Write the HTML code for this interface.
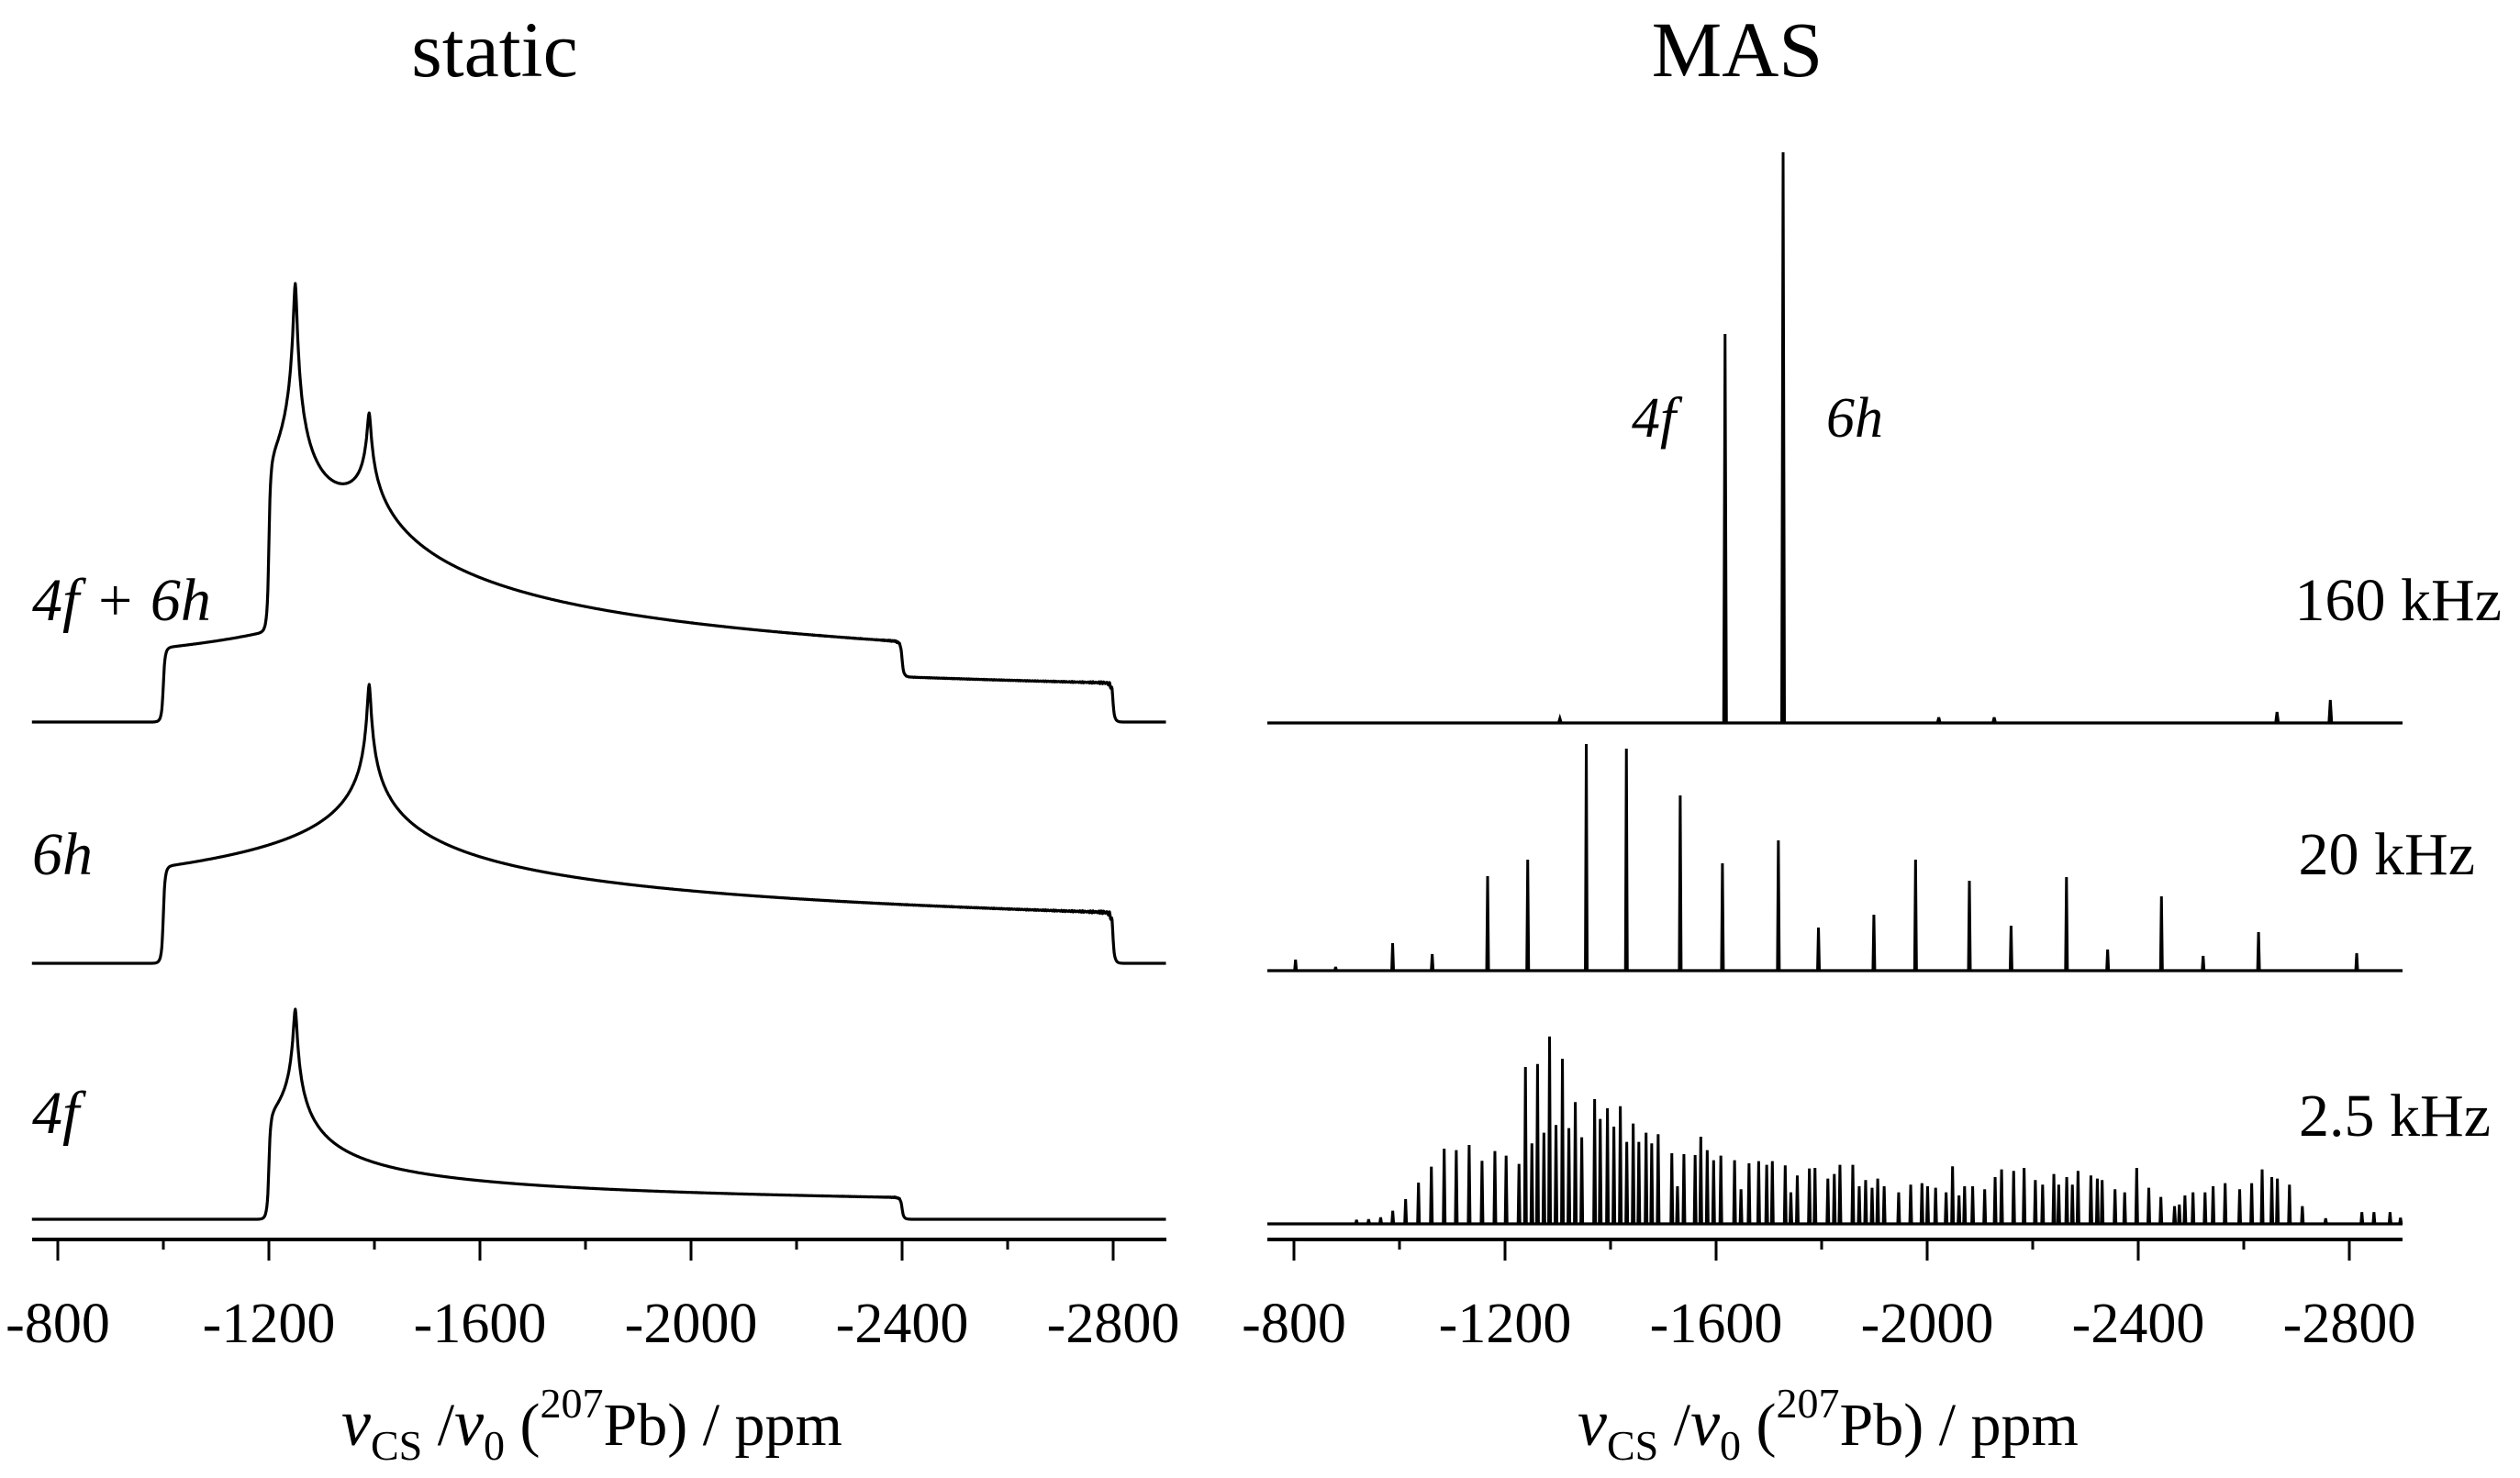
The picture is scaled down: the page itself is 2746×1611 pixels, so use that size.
<!DOCTYPE html>
<html><head><meta charset="utf-8"><style>
html,body{margin:0;padding:0;background:#fff;}
svg{display:block;}
text{font-family:"Liberation Serif",serif;fill:#000;}
</style></head><body>
<svg id="fig" width="2746" height="1611" viewBox="0 0 2746 1611">
<text x="539" y="83" font-size="86" text-anchor="middle">static</text>
<text x="1893" y="83" font-size="86" text-anchor="middle">MAS</text>
<g id="left"></g>
<g id="right"></g>
<text x="35" y="676" font-size="66" font-style="italic">4f + 6h</text>
<text x="35" y="953" font-size="66" font-style="italic">6h</text>
<text x="35" y="1235" font-size="66" font-style="italic">4f</text>
<text x="1778" y="476" font-size="62" font-style="italic">4f</text>
<text x="1990" y="476" font-size="62" font-style="italic">6h</text>
<text x="2726" y="676" font-size="66" text-anchor="end">160 kHz</text>
<text x="2697" y="953" font-size="66" text-anchor="end">20 kHz</text>
<text x="2714" y="1238" font-size="66" text-anchor="end">2.5 kHz</text>
<text x="372" y="1575" font-size="66"><tspan font-style="italic" font-size="72">ν</tspan><tspan font-size="46" dy="16">CS</tspan><tspan dy="-16"> /</tspan><tspan font-style="italic" font-size="72">ν</tspan><tspan font-size="46" dy="16">0</tspan><tspan dy="-16"> (</tspan><tspan font-size="46" dy="-30">207</tspan><tspan dy="30">Pb) / ppm</tspan></text>
<text x="1719" y="1575" font-size="66"><tspan font-style="italic" font-size="72">ν</tspan><tspan font-size="46" dy="16">CS</tspan><tspan dy="-16"> /</tspan><tspan font-style="italic" font-size="72">ν</tspan><tspan font-size="46" dy="16">0</tspan><tspan dy="-16"> (</tspan><tspan font-size="46" dy="-30">207</tspan><tspan dy="30">Pb) / ppm</tspan></text>
</svg>
<script>
// ---- data ----
const tickMajor = [-800, -1200, -1600, -2000, -2400, -2800];
const tickMinor = [-1000, -1400, -1800, -2200, -2600];
const tensor4f = [-1200, -1250, -2400];
const tensor6h = [-1000, -1390, -2800];
const staticPeak4f = 229, staticPeak6h = 304, staticPeakSum = 478;
const mas160Ppm = [-1617, -1727, -1304, -2022, -2127, -2663, -2764];
const mas160H = [424, 622, 5, 6, 6, 12, 25];
const mas20Ppm = [-803,-879,-987,-1062,-1167,-1243,-1354,-1430,-1532,-1612,-1718,-1794,-1899,-1978,-2080,-2159,-2264,-2342,-2444,-2523,-2628,-2814];
const mas20H = [12,4,30,18,103,121,247,242,191,117,142,47,61,121,98,49,102,23,81,16,42,19];
const mas25Ppm = [-918.6,-941.5,-964.3,-987.2,-1011.6,-1036,-1060.4,-1084.7,-1107.6,-1132,-1156.4,-1180.8,-1202.1,-1226.5,-1238.7,-1250.9,-1261.6,-1273.7,-1284.4,-1296.6,-1308.8,-1321,-1333.2,-1345.4,-1369.8,-1380.4,-1394.1,-1406.3,-1418.5,-1430.7,-1442.9,-1453.6,-1467.3,-1478,-1490.2,-1516.1,-1526.8,-1539,-1560.3,-1571,-1583.2,-1595.3,-1609,-1635,-1647.2,-1662.4,-1680.7,-1695.9,-1706.6,-1731,-1741.7,-1753.9,-1776.8,-1787.4,-1811.8,-1824,-1834.7,-1859.1,-1871.2,-1883.4,-1895.6,-1906.3,-1918.5,-1946,-1968.8,-1990.1,-2000.8,-2016,-2035.9,-2048.1,-2060.3,-2070.9,-2086.2,-2109,-2128.8,-2141,-2163.9,-2183.7,-2205,-2218.8,-2240.1,-2249.3,-2264.5,-2275.2,-2285.9,-2310.3,-2322.5,-2331.6,-2356,-2374.3,-2397.1,-2420,-2442.9,-2468.8,-2477.9,-2488.5,-2503.8,-2526.6,-2541.9,-2564.7,-2592.2,-2615,-2634.8,-2653.1,-2663.7,-2686.6,-2711,-2755.2,-2823.8,-2846.7,-2877.2,-2897];
const mas25H = [4.3,5,7,14.3,27,45,62.3,82,80.3,86,68.7,79.3,74.3,65.3,171,87.7,174.3,99.3,204.3,107.7,180,104.3,132.7,94.3,136,114.3,126,106,128.3,89.3,109.3,89.3,99.3,87.7,97.7,77,41,76,75,95,80.3,69.3,74.3,69.3,37.7,66,68.3,64.3,68.3,63.7,34.3,52.7,60.3,61,49.3,54.3,64.3,64.3,41,47.7,39.3,49.3,41,34.3,42.7,44.3,41,39.3,34.3,62.7,31,41,41,37.7,51,59.3,57.7,61,47.7,42.7,54.3,42.7,51,42.7,57.7,52.7,49.3,47.7,37.7,34.3,61,39.3,29.3,19.3,21,31,34.3,34.3,41,44.3,37.7,44.3,59.3,51,49.3,42.7,19.3,6,12.7,12.7,12.7,6.7];

const NS = "http://www.w3.org/2000/svg";
const PX = 0.575;
function xL(p){ return 63 + (-800 - p) * PX; }
function xR(p){ return 1410 + (-800 - p) * PX; }
const P_MIN = -751, P_MAX = -2900;
function mk(tag, attrs, parent){ const e = document.createElementNS(NS, tag); for (const k in attrs) e.setAttribute(k, attrs[k]); parent.appendChild(e); return e; }

function axis(g, xf, x0, x1, name){
  const ax = mk('line', {x1:x0, x2:x1, y1:1351, y2:1351, stroke:'#000', 'stroke-width':4}, g);
  
  
  tickMajor.forEach(t => {
    const l = mk('line', {x1:xf(t), x2:xf(t), y1:1351, y2:1374, stroke:'#000', 'stroke-width':3}, g);
    
    
    const tx = mk('text', {x:xf(t), y:1463, 'font-size':62, 'text-anchor':'middle'}, g);
    tx.textContent = String(t);
    
    
  });
  tickMinor.forEach(t => {
    const l = mk('line', {x1:xf(t), x2:xf(t), y1:1351, y2:1362, stroke:'#000', 'stroke-width':3}, g);
    
    
  });
}

// static powder pattern
const BIN0 = -700, NB = 2300;
function powder(t){
  const h = new Float64Array(NB);
  const N = 1400, M = 1400;
  for (let i = 0; i < N; i++){
    const c = -1 + (i + 0.5) * 2 / N, c2 = c*c, s2 = 1 - c2;
    for (let j = 0; j < M; j++){
      const ph = (j + 0.5) * Math.PI / 2 / M;
      const cp = Math.cos(ph), cp2 = cp*cp;
      const d = t[0]*s2*cp2 + t[1]*s2*(1-cp2) + t[2]*c2;
      const f = BIN0 - d; const k = Math.floor(f); const r = f - k;
      if (k >= 0 && k < NB-1){ h[k] += 1 - r; h[k+1] += r; }
    }
  }
  const w = 2.5, K = 40, out = new Float64Array(NB);
  const ker = []; for (let k = -K; k <= K; k++) ker.push(1/(1 + (k/w)*(k/w)) * Math.exp(-(k*k)/(2*9*9)));
  for (let i = 0; i < NB; i++){ let s = 0; for (let k = -K; k <= K; k++){ const j = i + k; if (j >= 0 && j < NB) s += h[j]*ker[k+K]; } out[i] = s; }
  let sum = 0; for (let i = 0; i < NB; i++) sum += out[i];
  for (let i = 0; i < NB; i++) out[i] /= sum;
  return out;
}
function drawStatic(g, arr, base, peak, name){
  let mx = 0; for (const v of arr) mx = Math.max(mx, v);
  let d = '';
  for (let i = 0; i < NB; i++){
    const p = BIN0 - i; if (p > P_MIN || p < P_MAX) continue;
    const y = base - arr[i] / mx * peak;
    d += (d ? 'L' : 'M') + xL(p).toFixed(1) + ' ' + y.toFixed(1);
  }
  const pa = mk('path', {d:d, fill:'none', stroke:'#000', 'stroke-width':3.2, 'stroke-linejoin':'round'}, g);
  
  
}
const L = document.getElementById('left'), R = document.getElementById('right');
axis(L, xL, 35, 1271, 'static');
axis(R, xR, 1381, 2618, 'mas');
const s4 = powder(tensor4f), s6 = powder(tensor6h);
const sSum = new Float64Array(NB); for (let i = 0; i < NB; i++) sSum[i] = 2*s4[i] + 3*s6[i];
drawStatic(L, sSum, 787, staticPeakSum, 'static-spectrum-4f-6h');
drawStatic(L, s6, 1050, staticPeak6h, 'static-spectrum-6h');
drawStatic(L, s4, 1329, staticPeak4f, 'static-spectrum-4f');

function drawMas(g, ppm, hts, base, name, hw){
  const bl = mk('line', {x1:1381, x2:2618, y1:base, y2:base, stroke:'#000', 'stroke-width':3.2}, g);
  
  
  ppm.forEach((p, i) => {
    const x = xR(p);
    const pk = mk('path', {d:'M' + (x-hw) + ' ' + base + 'L' + x + ' ' + (base - hts[i]) + 'L' + (x+hw) + ' ' + base, fill:'none', stroke:'#000', 'stroke-width':3}, g);
    
    
  });
}
drawMas(R, mas160Ppm, mas160H, 788, 'mas-160khz', 1.5);
drawMas(R, mas20Ppm, mas20H, 1058, 'mas-20khz', 1);
drawMas(R, mas25Ppm, mas25H, 1334, 'mas-2-5khz', 1);
</script>
</body></html>
